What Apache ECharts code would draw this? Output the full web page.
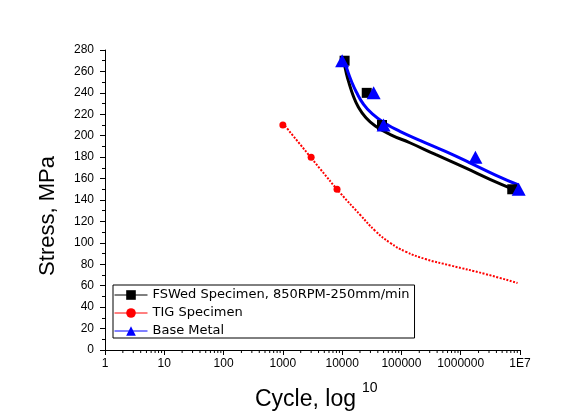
<!DOCTYPE html>
<html><head><meta charset="utf-8">
<style>html,body{margin:0;padding:0;background:#fff}#chart{width:588px;height:418px}</style>
<script src="https://cdn.jsdelivr.net/npm/echarts@6/dist/echarts.min.js"></script>
</head><body><div id="chart"></div>
<script>
const seriesNames = ['FSWed Specimen, 850RPM-250mm/min', 'TIG Specimen', 'Base Metal'];
const fswCycles = [11000, 26000, 47000, 7400000];
const fswStress = [270, 240, 210, 150];
const tigCycles = [1000, 3000, 8200];
const tigStress = [210, 180, 150];
const baseCycles = [10000, 34000, 50000, 1770000, 9500000];
const baseStress = [270, 240, 210, 180, 150];
const fswFitCycles = [10670, 11750, 13210, 15430, 18740, 24620, 36300, 65000, 141600, 374500, 1203000, 3180000, 7200000];
const fswFitStress = [269.7, 258.5, 248.3, 237.1, 226.8, 217.5, 209.1, 201.1, 193.2, 182.5, 169.9, 159.1, 150.7];
const baseFitCycles = [10670, 12220, 14290, 17340, 22770, 32300, 53580, 95940, 208900, 552100, 1459000, 3860000, 9440000];
const baseFitStress = [271.6, 261.3, 251.1, 240.8, 229.6, 220.3, 211.4, 203.9, 195.5, 185.3, 174.5, 163.3, 154.0];
const tigFitCycles = [1000, 1965, 4277, 9310, 20270, 36300, 65000, 116600, 253700, 671000, 2620000, 9080000];
const tigFitStress = [211.6, 191.8, 168.9, 146.5, 126.0, 111.1, 99.9, 91.9, 84.9, 78.9, 70.9, 62.5];
const xTickLabels = ['1', '10', '100', '1000', '10000', '100000', '1000000', '1E7'];
const yAxisMin = 0, yAxisMax = 280, yAxisStep = 20;
const xTitle = 'Cycle, log';
const xTitleSup = '10';
const yTitle = 'Stress, MPa';

const zip = (a, b) => a.map((v, i) => [v, b[i]]);
// minor tick positions on the log axis: 2..9 x 10^k
const minorTickData = [];
for (let k = 0; k < xTickLabels.length - 1; k++) {
  for (let m = 2; m <= 9; m++) minorTickData.push([m * Math.pow(10, k), 0]);
}
const FONT = '"Liberation Sans", Arial, sans-serif';

const chart = echarts.init(document.getElementById('chart'), null, {renderer: 'canvas'});
chart.setOption({
  animation: false,
  backgroundColor: '#fff',
  grid: {left: 105, right: 68, top: 50, bottom: 68, containLabel: false, outerBoundsMode: 'none'},
  xAxis: {
    type: 'log', logBase: 10, min: 1, max: 1e7, splitNumber: 7,
    axisLine: {show: true, lineStyle: {color: '#000', width: 1}},
    axisTick: {show: true, inside: false, length: 5, lineStyle: {color: '#000', width: 1}},
    minorTick: {show: false},
    splitLine: {show: false},
    axisLabel: {
      show: true, color: '#000', fontSize: 12, fontFamily: FONT, margin: 8,
      formatter: v => { const i = Math.round(Math.log10(v)); return xTickLabels[i] !== undefined ? xTickLabels[i] : ''; }
    }
  },
  yAxis: {
    type: 'value', min: yAxisMin, max: yAxisMax, interval: yAxisStep,
    axisLine: {show: true, lineStyle: {color: '#000', width: 1}},
    axisTick: {show: true, inside: false, length: 5, lineStyle: {color: '#000', width: 1}},
    minorTick: {show: true, splitNumber: 2, length: 3, lineStyle: {color: '#000', width: 1}},
    splitLine: {show: false},
    minorSplitLine: {show: false},
    axisLabel: {show: true, color: '#000', fontSize: 12, fontFamily: FONT, margin: 11}
  },
  legend: {
    show: true, orient: 'vertical', left: 113, top: 285,
    data: seriesNames.map(n => ({name: n})),
    itemWidth: 33, itemHeight: 12, itemGap: 4,
    padding: [3, 5, 0, 1],
    borderColor: '#000', borderWidth: 1, backgroundColor: '#fff',
    selectedMode: false,
    lineStyle: {width: 1, opacity: 1},
    textStyle: {color: '#000', fontSize: 13, fontFamily: '"DejaVu Sans", sans-serif', lineHeight: 14}
  },
  graphic: [
    {type: 'text', x: 48, y: 216, rotation: Math.PI / 2,
      style: {text: yTitle, font: '22px ' + FONT, fill: '#000', align: 'center', verticalAlign: 'middle'}},
    {type: 'text', x: 255, y: 400,
      style: {text: xTitle, font: '23px ' + FONT, fill: '#000', align: 'left', verticalAlign: 'middle'}},
    {type: 'text', x: 362, y: 388,
      style: {text: xTitleSup, font: '14px ' + FONT, fill: '#000', align: 'left', verticalAlign: 'middle'}}
  ],
  series: [
    {type: 'line', name: 'fswFit', data: zip(fswFitCycles, fswFitStress), symbol: 'none', smooth: 0.5,
      lineStyle: {color: '#000', width: 3}, silent: true, z: 2},
    {type: 'line', name: 'baseFit', data: zip(baseFitCycles, baseFitStress), symbol: 'none', smooth: 0.5,
      lineStyle: {color: '#0000ff', width: 3}, silent: true, z: 2},
    {type: 'line', name: 'tigFit', data: zip(tigFitCycles, tigFitStress), symbol: 'none', smooth: 0.5,
      lineStyle: {color: '#ff0000', width: 2, type: [2, 1.5]}, silent: true, z: 2},
    {type: 'line', name: seriesNames[0], data: zip(fswCycles, fswStress), symbol: 'rect', symbolSize: 10, showAllSymbol: true,
      itemStyle: {color: '#000'}, lineStyle: {color: '#000', width: 0}, z: 3},
    {type: 'line', name: seriesNames[1], data: zip(tigCycles, tigStress), symbol: 'circle', symbolSize: 7, showAllSymbol: true,
      itemStyle: {color: '#ff0000'}, lineStyle: {color: '#ff0000', width: 0}, z: 3},
    {type: 'line', name: seriesNames[2], data: zip(baseCycles, baseStress), symbol: 'triangle', symbolSize: [14, 13], showAllSymbol: true,
      itemStyle: {color: '#0000ff'}, lineStyle: {color: '#0000ff', width: 0}, z: 3},
    {type: 'custom', name: 'minorTicks', data: minorTickData, clip: false, silent: true, z: 4,
      encode: {x: 0, y: 1},
      renderItem: (params, api) => {
        const p = api.coord([api.value(0), api.value(1)]);
        return {type: 'line', shape: {x1: p[0], y1: p[1], x2: p[0], y2: p[1] + 3}, style: {stroke: '#000', lineWidth: 1}};
      }}
  ]
});
</script></body></html>
